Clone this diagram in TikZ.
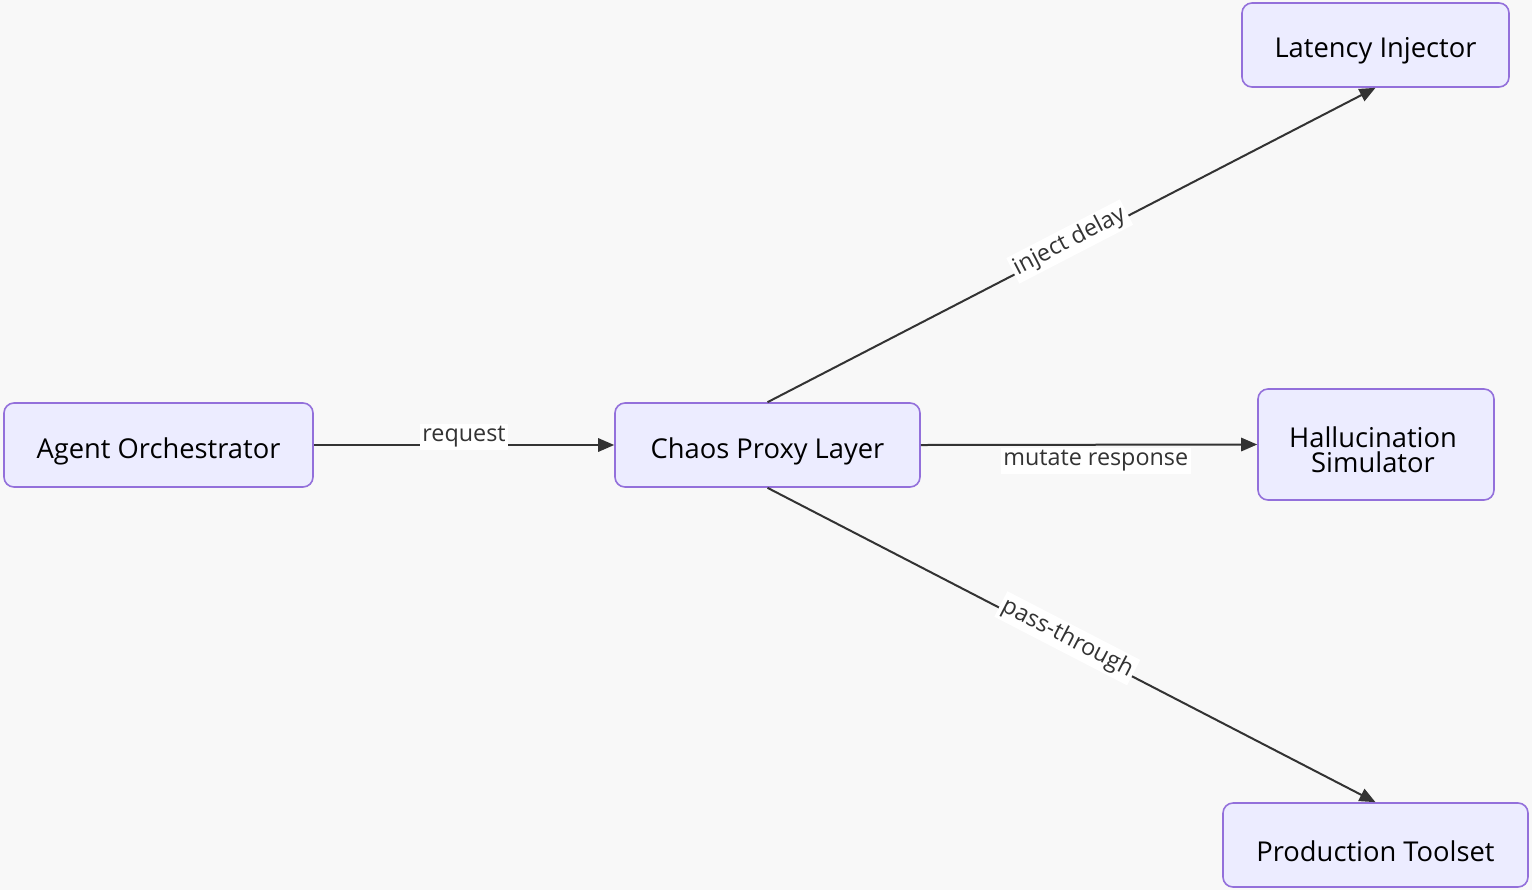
\documentclass[tikz,border=0pt]{standalone}
\usepackage{fontspec}
\setmainfont{Open Sans}
\usetikzlibrary{arrows.meta}
\definecolor{bg}{HTML}{F8F8F8}
\definecolor{nfill}{HTML}{ECECFF}
\definecolor{nline}{HTML}{9370DB}
\definecolor{ecol}{HTML}{333333}
\begin{document}
\begin{tikzpicture}[x=0.75pt,y=-0.75pt,
  box/.style={draw=nline,fill=nfill,line width=1.2pt,rounded corners=7.5pt,inner sep=0pt,font=\fontsize{20.5}{19}\selectfont,align=center,text=black},
  edge/.style={draw=ecol,line width=1.5pt,-{Triangle[length=12pt,width=10pt]}},
  lab/.style={fill=white,font=\fontsize{17.5}{18}\selectfont,text=ecol,inner sep=2pt}]
\fill[bg] (0,0) rectangle (1532,890);
\useasboundingbox (0,0) rectangle (1532,890);
\node[box,minimum width=231.75pt,minimum height=63pt] (ao) at (158.5,445) {};
\node[font=\fontsize{20.5}{19}\selectfont] at (158.5,451) {Agent Orchestrator};
\node[box,minimum width=228.75pt,minimum height=63pt] (cp) at (767.5,445) {};
\node[font=\fontsize{20.5}{19}\selectfont] at (767.5,451) {Chaos Proxy Layer};
\node[box,minimum width=200.25pt,minimum height=63pt] (li) at (1375.5,45) {};
\node[font=\fontsize{20.5}{19}\selectfont] at (1375.5,51) {Latency Injector};
\node[box,minimum width=177pt,minimum height=83.25pt] (hs) at (1376,444.5) {};
\node[font=\fontsize{20.5}{19}\selectfont,align=center] at (1373,450) {Hallucination\\Simulator};
\node[box,minimum width=228.75pt,minimum height=63pt] (pt) at (1375.5,845) {};
\node[font=\fontsize{20.5}{19}\selectfont] at (1375.5,851) {Production Toolset};
\draw[edge] (ao.east) -- node[lab,yshift=6pt] {request} (cp.west);
\draw[edge] (cp.east) -- node[lab,yshift=-12pt,pos=0.52] {mutate response} (hs.west);
\draw[edge] (cp.north) -- node[lab,sloped,pos=0.5,yshift=3pt] {inject delay} (li.south);
\draw[edge] (cp.south) -- node[lab,sloped,pos=0.49,yshift=3pt] {pass-through} (pt.north);
\end{tikzpicture}
\end{document}
